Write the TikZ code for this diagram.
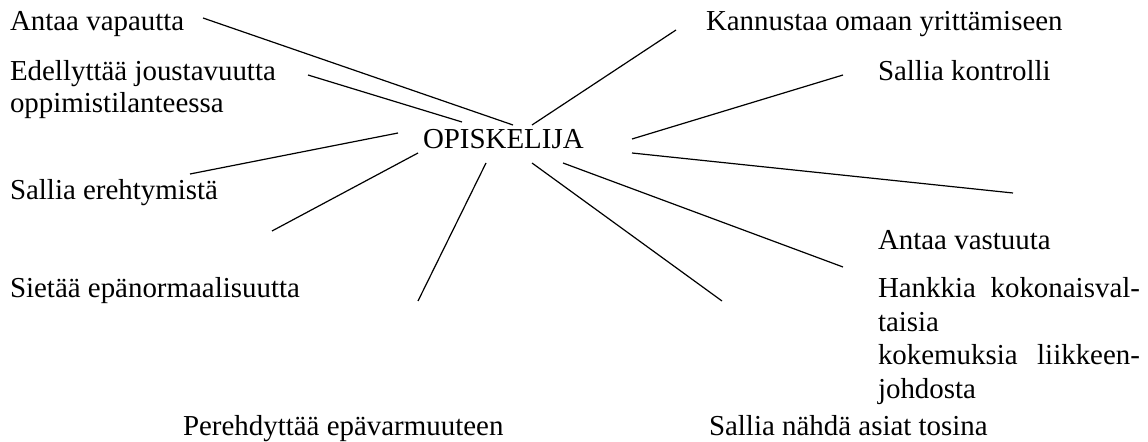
\documentclass[tikz,border=0pt]{standalone}
\usepackage{fontspec}
\setmainfont{Liberation Serif}
\begin{document}
\begin{tikzpicture}[x=0.4149pt,y=-0.4149pt,
  lbl/.style={inner sep=0pt, outer sep=0pt, anchor=base west, font=\fontsize{12}{13.9}\selectfont},
  conn/.style={line width=0.5pt, black}]
\useasboundingbox (0,0) rectangle (1148,442);
% texts
\node[lbl] (center) at (423,149) {OPISKELIJA};
\node[lbl] (vapautta) at (10,31) {Antaa vapautta};
\node[lbl] (joustavuutta) at (10,81) {\vtop{\baselineskip=12.9pt\hbox{Edellyttää joustavuutta}\hbox{oppimistilanteessa}}};
\node[lbl] (erehtymista) at (10,200) {Sallia erehtymistä};
\node[lbl] (epanormaali) at (10,298) {Sietää epänormaalisuutta};
\node[lbl] (epavarmuus) at (183,435) {Perehdyttää epävarmuuteen};
\node[lbl] (tosina) at (709,435) {Sallia nähdä asiat tosina};
\node[lbl] (yrittaminen) at (706,31) {Kannustaa omaan yrittämiseen};
\node[lbl] (kontrolli) at (878,81) {Sallia kontrolli};
\node[lbl] (vastuu) at (878,250) {Antaa vastuuta};
\node[lbl] (hankkia) at (878,298) {\vtop{\hsize=108.7pt\baselineskip=13.85pt
  \hbox to\hsize{Hankkia\hfill kokonaisval-}\hbox{taisia}\hbox to\hsize{kokemuksia\hfill liikkeen-}\hbox{johdosta}}};
% connector end points
\coordinate (a1) at (203,18);   \coordinate (b1) at (513,125);
\coordinate (a2) at (308,75);   \coordinate (b2) at (462,122);
\coordinate (a3) at (190,174);  \coordinate (b3) at (398,133);
\coordinate (a4) at (272,231);  \coordinate (b4) at (418,153);
\coordinate (a5) at (418,301);  \coordinate (b5) at (486,163);
\coordinate (a6) at (722,301);  \coordinate (b6) at (532,163);
\coordinate (a7) at (843,267);  \coordinate (b7) at (563,163);
\coordinate (a8) at (1013,193); \coordinate (b8) at (632,153);
\coordinate (a9) at (843,75);   \coordinate (b9) at (632,139);
\coordinate (a10) at (676,30);  \coordinate (b10) at (532,125);
% connectors
\draw[conn] (a1) -- (b1);
\draw[conn] (a2) -- (b2);
\draw[conn] (a3) -- (b3);
\draw[conn] (a4) -- (b4);
\draw[conn] (a5) -- (b5);
\draw[conn] (a6) -- (b6);
\draw[conn] (a7) -- (b7);
\draw[conn] (a8) -- (b8);
\draw[conn] (a9) -- (b9);
\draw[conn] (a10) -- (b10);
\end{tikzpicture}
\end{document}
